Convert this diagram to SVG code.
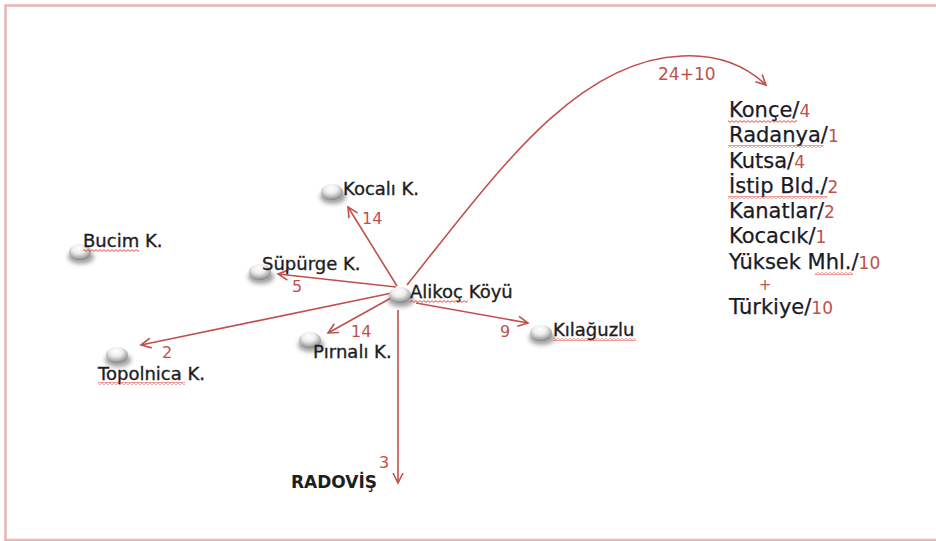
<svg xmlns="http://www.w3.org/2000/svg" width="936" height="541" viewBox="0 0 936 541">
<style>
.lbl{font-family:"DejaVu Sans",Verdana,sans-serif;font-size:18px;fill:#1e1e1e;stroke:#1e1e1e;stroke-width:0.35}
.num{font-family:"DejaVu Sans",Verdana,sans-serif;font-size:16px;fill:#c0504d}
.lst{font-family:"DejaVu Sans",Verdana,sans-serif;font-size:21px;fill:#1a1a28;stroke:#1a1a28;stroke-width:0.25}
.lst tspan{font-size:17px;fill:#c0504d;stroke:none}
.con{fill:none;stroke:#c0504d;stroke-width:1.6}
.wv{fill:url(#wavy)}
</style>
<defs>
<radialGradient id="ball" cx="0.45" cy="0.35" r="0.65" fx="0.45" fy="0.25">
<stop offset="0" stop-color="#ffffff"/>
<stop offset="0.45" stop-color="#eeeeee"/>
<stop offset="0.8" stop-color="#b0b0b0"/>
<stop offset="1" stop-color="#858585"/>
</radialGradient>
<filter id="blur" x="-50%" y="-50%" width="200%" height="200%"><feGaussianBlur stdDeviation="2.2"/></filter>
<marker id="ah" markerUnits="userSpaceOnUse" markerWidth="14" markerHeight="14" refX="11" refY="6" orient="auto" viewBox="0 0 14 12">
<path d="M1,1 L11,6 L1,11" fill="none" stroke="#c0504d" stroke-width="1.6"/>
</marker>
<pattern id="wavy" patternUnits="userSpaceOnUse" width="4" height="3">
<path d="M0,0.6 L2,2.4 L4,0.6" fill="none" stroke="#e03030" stroke-width="0.9"/>
</pattern>
<g id="sphere">
<ellipse cx="1" cy="5" rx="13" ry="7" fill="#666" opacity="0.6" filter="url(#blur)"/>
<ellipse cx="0" cy="0" rx="11" ry="8" fill="url(#ball)"/>
</g>
</defs>
<rect x="5.5" y="5.5" width="940" height="534.5" fill="#fff" stroke="#e8b4b4" stroke-width="2.5"/>

<g id="connectors">
<path class="con" d="M397,286 L348,207" marker-end="url(#ah)"/>
<path class="con" d="M396,287 L278,274" marker-end="url(#ah)"/>
<path class="con" d="M392,293 L141,345" marker-end="url(#ah)"/>
<path class="con" d="M391,298 L328,333" marker-end="url(#ah)"/>
<path class="con" d="M416,303 L528,323" marker-end="url(#ah)"/>
<path class="con" d="M398,310 L398,483" marker-end="url(#ah)"/>
<path class="con" d="M407,285 C495,175 575,60 682,56 C722,54 748,68 766,85" marker-end="url(#ah)"/>
<text class="num" x="362" y="224">14</text>
<text class="num" x="292" y="292">5</text>
<text class="num" x="162" y="358">2</text>
<text class="num" x="351" y="337">14</text>
<text class="num" x="500" y="337">9</text>
<text class="num" x="379" y="468">3</text>
<text class="num" x="658" y="80" style="font-size:17px">24+10</text>
</g>

<g id="kocali"><use href="#sphere" x="332" y="192"/><text class="lbl" x="343" y="195">Kocalı K.</text></g>
<g id="bucim"><use href="#sphere" x="80" y="252"/><text class="lbl" x="83" y="247">Bucim K.</text><rect class="wv" x="83" y="249" width="56" height="3"/></g>
<g id="supurge"><use href="#sphere" x="260" y="272"/><text class="lbl" x="262" y="270">Süpürge K.</text></g>
<g id="alikoc"><use href="#sphere" x="400" y="295"/><text class="lbl" x="410" y="298">Alikoç Köyü</text><rect class="wv" x="410" y="300" width="58" height="3"/></g>
<g id="kilaguzlu"><use href="#sphere" x="541" y="333"/><text class="lbl" x="553" y="336">Kılağuzlu</text><rect class="wv" x="553" y="338" width="83" height="3"/></g>
<g id="pirnali"><use href="#sphere" x="310" y="340"/><text class="lbl" x="313" y="358">Pırnalı K.</text></g>
<g id="topolnica"><use href="#sphere" x="117" y="355"/><text class="lbl" x="98" y="380">Topolnica K.</text><rect class="wv" x="98" y="382" width="87" height="3"/></g>
<g id="radovis"><text class="lbl" x="291" y="488" style="font-weight:bold;font-size:17px;stroke:none">RADOVİŞ</text></g>

<g id="list">
<text class="lst" x="729" y="117">Konçe/<tspan>4</tspan></text>
<text class="lst" x="729" y="142">Radanya/<tspan>1</tspan></text>
<text class="lst" x="729" y="168">Kutsa/<tspan>4</tspan></text>
<text class="lst" x="729" y="193">İstip Bld./<tspan>2</tspan></text>
<text class="lst" x="729" y="218">Kanatlar/<tspan>2</tspan></text>
<text class="lst" x="729" y="243">Kocacık/<tspan>1</tspan></text>
<text class="lst" x="729" y="269">Yüksek Mhl./<tspan>10</tspan></text>
<text class="num" x="765" y="290" text-anchor="middle" style="font-size:15px">+</text>
<text class="lst" x="729" y="314">Türkiye/<tspan>10</tspan></text>
<rect class="wv" x="728" y="120" width="69" height="3"/>
<rect class="wv" x="728" y="145" width="95" height="3"/>
<rect class="wv" x="728" y="196" width="99" height="3"/>
<rect class="wv" x="815" y="272" width="38" height="3"/>
</g>
</svg>
